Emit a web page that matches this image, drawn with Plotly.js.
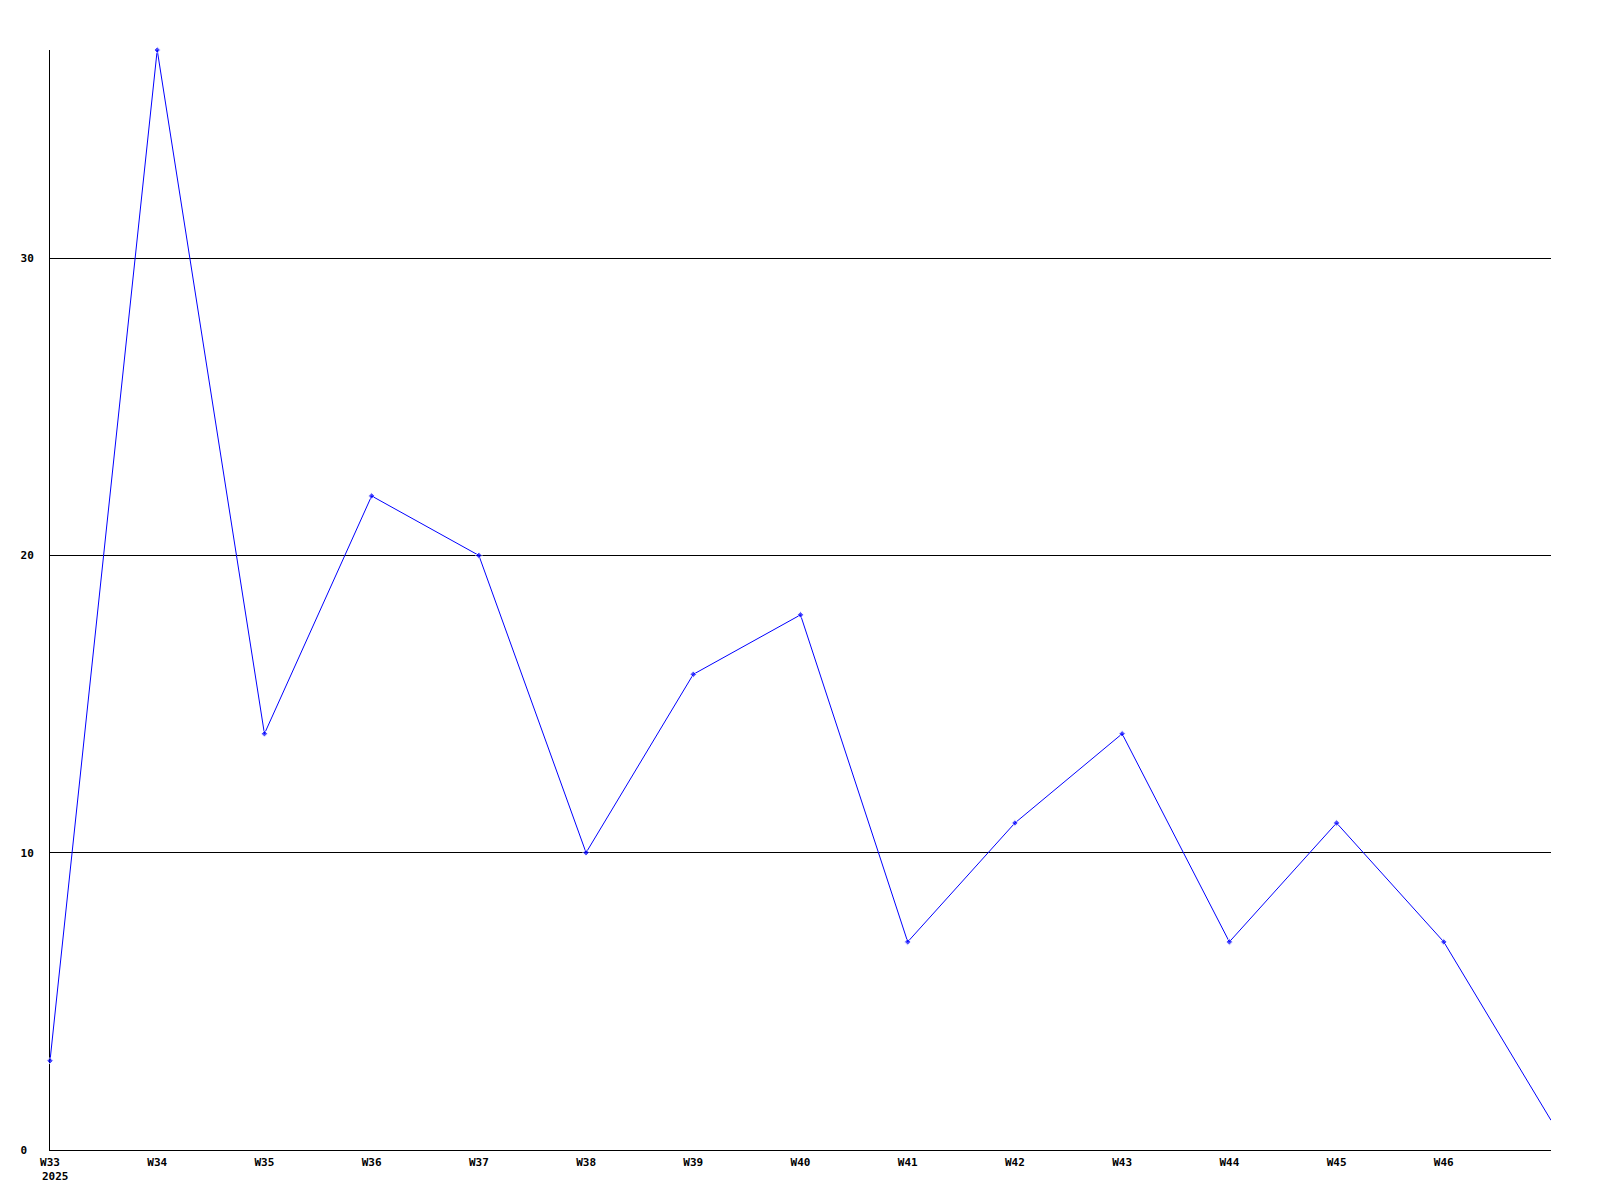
<!DOCTYPE html>
<html>
<head>
<meta charset="utf-8">
<script src="https://cdn.plot.ly/plotly-3.0.1.min.js"></script>
<style>html,body{margin:0;padding:0;background:#fff}#chart{width:1600px;height:1200px}</style>
</head>
<body>
<div id="chart"></div>
<script>
const weeks = ["W33","W34","W35","W36","W37","W38","W39","W40","W41","W42","W43","W44","W45","W46","W47"];
const counts = [3,37,14,22,20,10,16,18,7,11,14,7,11,7,1];
const tickLabels = ["W33","W34","W35","W36","W37","W38","W39","W40","W41","W42","W43","W44","W45","W46"];
const yearLabel = "2025";
const yTicks = [0,10,20,30];

const xIdx = weeks.map((w,i)=>i);
const markerSizes = counts.map((c,i)=> i === counts.length-1 ? 0 : 5);
const tf = {family:"DejaVu Sans Mono, monospace", size:11, color:"#000", weight:"bold"};

Plotly.newPlot("chart", [{
  x: xIdx, y: counts, text: weeks, type: "scatter", mode: "lines+markers",
  line: {color:"#0000ff", width:1},
  marker: {color:"#0000ff", size:markerSizes, symbol:"diamond"},
  cliponaxis: false,
  hoverinfo: "text+y"
}], {
  width: 1600, height: 1200,
  margin: {l:50, r:49, t:50, b:50},
  paper_bgcolor: "#fff", plot_bgcolor: "#fff",
  showlegend: false,
  font: tf,
  xaxis: {
    range: [0, 14], tickmode: "array",
    tickvals: tickLabels.map((t,i)=>i), ticktext: tickLabels,
    showgrid: false, zeroline: false, showline: true, linecolor: "#000", linewidth: 1,
    ticks: "", tickfont: tf, ticklabelstandoff: 2, layer: "below traces"
  },
  yaxis: {
    range: [0, 37], tickmode: "array", tickvals: yTicks,
    ticktext: yTicks.map(v => String(v).padEnd(2, "\u00a0")),
    showgrid: true, gridcolor: "#000", gridwidth: 1,
    zeroline: false, showline: true, linecolor: "#000", linewidth: 1,
    ticks: "", tickfont: tf, ticklabelstandoff: 13, layer: "below traces"
  },
  annotations: [{
    text: yearLabel, xref: "paper", yref: "paper", x: -10/1501, y: 0,
    xanchor: "left", yanchor: "middle", yshift: -26, showarrow: false,
    font: tf
  }]
}, {staticPlot: true});
</script>
</body>
</html>
